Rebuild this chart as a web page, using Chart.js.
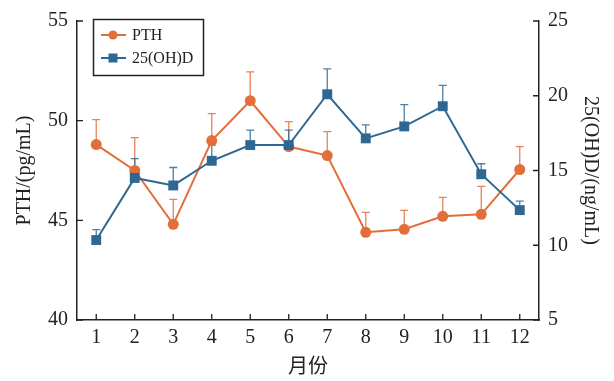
<!DOCTYPE html>
<html>
  <head>
    <meta charset="utf-8">
    <script src="https://cdn.jsdelivr.net/npm/chart.js@4.4.0/dist/chart.umd.min.js"></script>
    <style>
      html, body { margin: 0; padding: 0; background: #fff; }
      #wrap { position: relative; width: 614px; height: 381px; }
    </style>
  </head>
  <body>
    <div id="wrap">
      <canvas id="pthChart" width="614" height="381"></canvas>
    </div>

    <script>
      // data
      var months = ['1', '2', '3', '4', '5', '6', '7', '8', '9', '10', '11', '12'];
      var pth = [48.8, 47.5, 44.8, 49.0, 51.0, 48.7, 48.25, 44.4, 44.55, 45.2, 45.3, 47.55];
      var pthErr = [1.25, 1.65, 1.25, 1.35, 1.45, 1.25, 1.2, 1.0, 0.95, 0.95, 1.4, 1.15];
      var vitD = [10.35, 14.5, 14.0, 15.65, 16.7, 16.7, 20.1, 17.15, 17.95, 19.3, 14.75, 12.35];
      var vitDErr = [0.7, 1.3, 1.2, 1.05, 1.0, 1.0, 1.7, 0.9, 1.45, 1.4, 0.7, 0.6];
      var pthTicks = [40, 45, 50, 55];
      var vitDTicks = [5, 10, 15, 20, 25];

      var orange = '#E26F3B';
      var blue = '#2E6892';
      var axisColor = '#222';
      var serif = "'Liberation Serif', 'DejaVu Serif', serif";

      // upper error bars, drawn under the markers
      var errorBars = {
        id: 'errorBars',
        beforeDatasetsDraw: function(chart) {
          var ctx = chart.ctx;
          chart.data.datasets.forEach(function(ds, i) {
            var meta = chart.getDatasetMeta(i);
            var yScale = chart.scales[ds.yAxisID];
            ctx.save();
            ctx.strokeStyle = ds.errColor;
            ctx.lineWidth = 1.3;
            meta.data.forEach(function(pt, j) {
              var top = yScale.getPixelForValue(ds.data[j] + ds.err[j]);
              ctx.beginPath();
              ctx.moveTo(pt.x, pt.y);
              ctx.lineTo(pt.x, top);
              ctx.moveTo(pt.x - 4, top);
              ctx.lineTo(pt.x + 4, top);
              ctx.stroke();
            });
            ctx.restore();
          });
        }
      };

      // inward tick marks on all three axes
      var innerTicks = {
        id: 'innerTicks',
        afterDraw: function(chart) {
          var ctx = chart.ctx;
          var x = chart.scales.x, y = chart.scales.y, y1 = chart.scales.y1;
          var len = 6;
          ctx.save();
          ctx.strokeStyle = axisColor;
          ctx.lineWidth = 1.3;
          ctx.beginPath();
          months.forEach(function(m, i) {
            var px = x.getPixelForValue(i);
            ctx.moveTo(px, x.top);
            ctx.lineTo(px, x.top - len);
          });
          pthTicks.forEach(function(v) {
            var py = y.getPixelForValue(v);
            ctx.moveTo(y.right, py);
            ctx.lineTo(y.right + len, py);
          });
          vitDTicks.forEach(function(v) {
            var py = y1.getPixelForValue(v);
            ctx.moveTo(y1.left, py);
            ctx.lineTo(y1.left - len, py);
          });
          ctx.stroke();
          ctx.restore();
        }
      };

      // boxed legend inside the plot
      var boxLegend = {
        id: 'boxLegend',
        afterDraw: function(chart) {
          var ctx = chart.ctx;
          ctx.save();
          ctx.strokeStyle = axisColor;
          ctx.lineWidth = 1.5;
          ctx.strokeRect(93.5, 19.5, 110, 56);
          chart.data.datasets.forEach(function(ds, i) {
            var cy = 35 + i * 23;
            ctx.strokeStyle = ds.borderColor;
            ctx.fillStyle = ds.borderColor;
            ctx.lineWidth = 2;
            ctx.beginPath();
            ctx.moveTo(101, cy);
            ctx.lineTo(126, cy);
            ctx.stroke();
            if (ds.pointStyle === 'rect') {
              ctx.fillRect(108.5, cy - 4.5, 9, 9);
            } else {
              ctx.beginPath();
              ctx.arc(113, cy, 4.5, 0, Math.PI * 2);
              ctx.fill();
            }
            ctx.fillStyle = '#222';
            ctx.font = '16px ' + serif;
            ctx.textBaseline = 'middle';
            ctx.fillText(ds.label, 132, cy + 1);
          });
          ctx.restore();
        }
      };

      var ctx = document.getElementById('pthChart').getContext('2d');
      var pthChart = new Chart(ctx, {
        type: 'line',
        data: {
          labels: months,
          datasets: [{
            label: 'PTH',
            data: pth,
            err: pthErr,
            errColor: 'rgba(226, 111, 59, 0.85)',
            yAxisID: 'y',
            borderColor: orange,
            backgroundColor: orange,
            borderWidth: 2,
            pointStyle: 'circle',
            pointRadius: 5.5,
            pointBorderWidth: 0,
            tension: 0,
            order: 1
          }, {
            label: '25(OH)D',
            data: vitD,
            err: vitDErr,
            errColor: 'rgba(46, 104, 146, 0.85)',
            yAxisID: 'y1',
            borderColor: blue,
            backgroundColor: blue,
            borderWidth: 2,
            pointStyle: 'rect',
            pointRadius: 7,
            pointBorderWidth: 0,
            tension: 0,
            order: 0
          }]
        },
        plugins: [errorBars, innerTicks, boxLegend],
        options: {
          responsive: false,
          animation: false,
          layout: { padding: { top: 15, left: 0, right: 0, bottom: 0 } },
          plugins: {
            legend: { display: false },
            tooltip: { enabled: false }
          },
          scales: {
            x: {
              offset: true,
              grid: { display: false, drawTicks: false },
              border: { display: true, color: axisColor, width: 1.5 },
              ticks: { color: '#222', font: { family: serif, size: 20 }, padding: 6, maxRotation: 0 },
              title: {
                display: true, text: '月份', color: '#222',
                font: { family: "'Noto Sans CJK SC', sans-serif", size: 20 },
                padding: { top: 0, bottom: 4 }
              },
              afterFit: function(s) { s.height = 61; }
            },
            y: {
              position: 'left',
              min: 40, max: 55,
              grid: { display: false, drawTicks: false },
              border: { display: true, color: axisColor, width: 1.5 },
              afterBuildTicks: function(s) { s.ticks = pthTicks.map(function(v) { return { value: v }; }); },
              ticks: { color: '#222', font: { family: serif, size: 20 }, padding: 9 },
              title: {
                display: true, text: 'PTH/(pg/mL)', color: '#222',
                font: { family: serif, size: 20 },
                padding: { top: 13, bottom: 0 }
              },
              afterFit: function(s) { s.width = 77; }
            },
            y1: {
              position: 'right',
              min: 5, max: 25,
              grid: { display: false, drawTicks: false },
              border: { display: true, color: axisColor, width: 1.5 },
              afterBuildTicks: function(s) { s.ticks = vitDTicks.map(function(v) { return { value: v }; }); },
              ticks: { color: '#222', font: { family: serif, size: 20 }, padding: 9 },
              title: {
                display: true, text: '25(OH)D/(ng/mL)', color: '#222',
                font: { family: serif, size: 20 },
                padding: { top: 12, bottom: 0 }
              },
              afterFit: function(s) { s.width = 75; }
            }
          }
        }
      });
    </script>
  </body>
</html>
